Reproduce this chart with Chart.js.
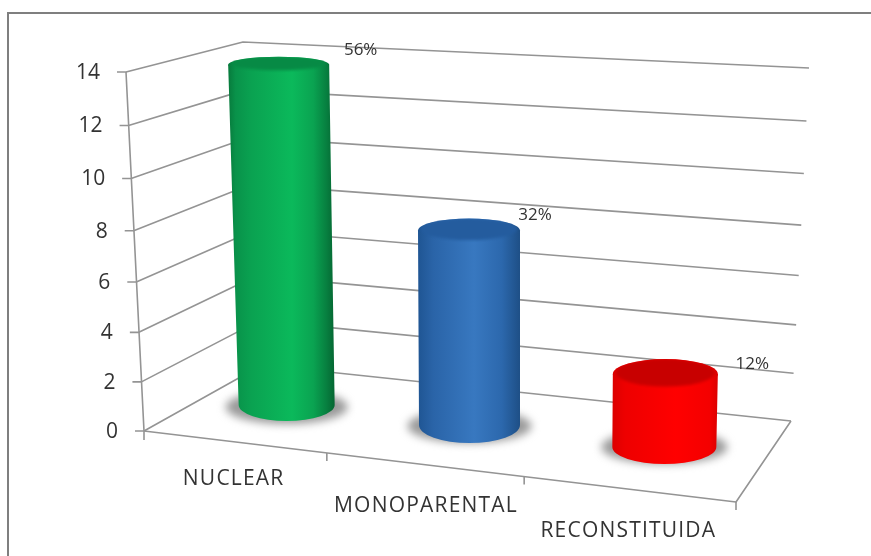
<!DOCTYPE html>
<html><head><meta charset="utf-8">
<style>html,body{margin:0;padding:0;background:#fff}canvas{display:block;filter:blur(.45px)}</style>
<script src="https://cdn.jsdelivr.net/npm/chart.js@4"></script>
</head><body><canvas id="c" width="871" height="556"></canvas>
<script>
const categories = ["NUCLEAR","MONOPARENTAL","RECONSTITUIDA"];
const values = [14,8,3];
const percentLabels = ["56%","32%","12%"];
const yTicks = [0,2,4,6,8,10,12,14];
const yMax = 14;

// perspective placement of each cylinder (depth offsets relative to its scale position)
const depth = [
 {topDx:36,botDx:44,baseDy:-26,rxT:50.5,rxB:48,ryT:8,ryB:16,sh:[61,17,2],lab:[118,-41],cat:[-9,48],},
 {topDx:29,botDx:29.5,baseDy:-6,rxT:51,rxB:50.5,ryT:12,ryB:18,sh:[62,17,1],lab:[95,-21],cat:[-14,75]},
 {topDx:28,botDx:27,baseDy:16,rxT:52.5,rxB:52,ryT:15,ryB:17,sh:[63,17,0],lab:[115,6],cat:[-9,100]}
];
const palettes = [
 {side:[[0,'#077a3c'],[.07,'#09924a'],[.22,'#0aa251'],[.6,'#0bb95b'],[.8,'#0aa351'],[.92,'#078040'],[1,'#056632']],top:'#078a45',rim:'#0aa655'},
 {side:[[0,'#1f5593'],[.15,'#2a64a8'],[.55,'#3878c0'],[.82,'#2c68ad'],[1,'#1e4f86']],top:'#245c9e',rim:'#3474bd'},
 {side:[[0,'#dc0000'],[.12,'#ee0000'],[.6,'#ff0000'],[.92,'#f40000'],[1,'#dc0000']],top:'#c80000',rim:'#ee0000'}
];
const fr = {x0:144,y0:431,x1:736,y1:502};
const bow = (t,a) => a*Math.sin(Math.PI*t);
const backFn = t => ({x:262-19*t, y:365-323*t+bow(t,4)});
const rightFn = t => ({x:791+18*t, y:421-353*t+bow(t,6)});
const GRID='#949494', TXT='#333333';

const scene = {
 id:'scene',
 beforeDatasetsDraw(ch){
  const c=ch.ctx, y=ch.scales.y, x=ch.scales.x;
  c.save();
  // frame
  c.strokeStyle='#7f7f7f'; c.lineWidth=2;
  c.beginPath(); c.moveTo(8,556); c.lineTo(8,13); c.lineTo(871,13); c.stroke();
  c.strokeStyle=GRID; c.lineWidth=1.6; c.lineJoin='round';
  // gridlines and y ticks
  yTicks.forEach(v=>{
    const t=v/yMax, fy=y.getPixelForValue(v)+bow(t,5), fx=x.left-18*t, b=backFn(t), r=rightFn(t);
    c.beginPath(); c.moveTo(fx-9,fy); c.lineTo(fx,fy); c.lineTo(b.x,b.y); c.lineTo(r.x,r.y); c.stroke();
    c.fillStyle=TXT; c.font='21px "Open Sans"'; c.textAlign='right'; c.textBaseline='middle';
    c.fillText(String(v),fx-26,fy+1);
  });
  // vertical wall axis
  c.beginPath(); c.moveTo(x.left,y.getPixelForValue(0)+9); c.lineTo(x.left,y.getPixelForValue(0));
  c.lineTo(x.left-18,y.getPixelForValue(yMax)); c.stroke();
  // floor front edge & right edge
  c.beginPath(); c.moveTo(fr.x0,fr.y0); c.lineTo(fr.x1,fr.y1); c.lineTo(rightFn(0).x,rightFn(0).y); c.stroke();
  // x ticks at category boundaries
  const bounds=[0,1].map(i=>(x.getPixelForValue(i)+x.getPixelForValue(i+1))/2-14.5).concat([fr.x1]);
  bounds.forEach(px=>{
    const py=fr.y0+(px-fr.x0)*(fr.y1-fr.y0)/(fr.x1-fr.x0);
    c.beginPath(); c.moveTo(px,py); c.lineTo(px,py+8); c.stroke();
  });
  // category labels
  c.fillStyle=TXT; c.font='21px "Open Sans"'; c.textAlign='center'; c.textBaseline='middle';
  if('letterSpacing' in c) c.letterSpacing='1.2px';
  categories.forEach((s,i)=>{
    const px=x.getPixelForValue(i)+depth[i].cat[0], py=y.getPixelForValue(0)+depth[i].cat[1];
    c.fillText(s,px,py);
  });
  if('letterSpacing' in c) c.letterSpacing='0px';
  c.restore();
 },
 afterDatasetsDraw(ch){
  const c=ch.ctx, meta=ch.getDatasetMeta(0);
  meta.data.forEach((bar,i)=>{
   const d=depth[i], p=palettes[i];
   const top={x:bar.x+d.topDx,y:bar.y+d.baseDy}, bot={x:bar.x+d.botDx,y:bar.base+d.baseDy};
   c.save();
   // floor shadow
   c.save();
   c.filter='blur(4px)';
   c.fillStyle='#9a9a9a';
   c.beginPath(); c.ellipse(bot.x,bot.y+d.sh[2],d.sh[0],d.sh[1],0,0,Math.PI*2); c.fill();
   c.restore();
   // body
   const L=Math.min(top.x-d.rxT,bot.x-d.rxB), R=Math.max(top.x+d.rxT,bot.x+d.rxB);
   const gr=c.createLinearGradient(L,0,R,0);
   p.side.forEach(s=>gr.addColorStop(s[0],s[1]));
   c.fillStyle=gr;
   c.beginPath();
   c.moveTo(top.x-d.rxT,top.y);
   c.lineTo(bot.x-d.rxB,bot.y);
   c.ellipse(bot.x,bot.y,d.rxB,d.ryB,0,Math.PI,0,true);
   c.lineTo(top.x+d.rxT,top.y);
   c.closePath(); c.fill();
   // top cap
   c.fillStyle=gr;
   c.beginPath(); c.ellipse(top.x,top.y,d.rxT,d.ryT,0,0,Math.PI*2); c.fill();
   c.save();
   c.beginPath(); c.ellipse(top.x,top.y,d.rxT,d.ryT,0,0,Math.PI*2); c.clip();
   c.filter='blur(1.5px)';
   c.fillStyle=p.top;
   c.beginPath(); c.ellipse(top.x,top.y-1.5,d.rxT-3,d.ryT-1,0,0,Math.PI*2); c.fill();
   c.restore();
   c.restore();
   // value label
   c.save();
   c.fillStyle=TXT; c.font='17px "Open Sans"'; c.textAlign='center'; c.textBaseline='middle';
   c.fillText(percentLabels[i],bar.x+d.lab[0],bar.y+d.lab[1]);
   c.restore();
  });
 }
};

new Chart(document.getElementById('c'),{
 type:'bar',
 data:{labels:categories,datasets:[{data:values,yAxisID:'yBar',backgroundColor:'rgba(0,0,0,0)',borderWidth:0,
   barPercentage:.52,categoryPercentage:1}]},
 options:{
  responsive:false,animation:false,devicePixelRatio:1,
  layout:{padding:{left:144,right:135,top:72,bottom:125}},
  plugins:{legend:{display:false},tooltip:{enabled:false},title:{display:false}},
  scales:{
   x:{display:false},
   y:{display:false,min:0,max:yMax},
   yBar:{display:false,min:0,max:14.77}
  }
 },
 plugins:[scene]
});
</script></body></html>
